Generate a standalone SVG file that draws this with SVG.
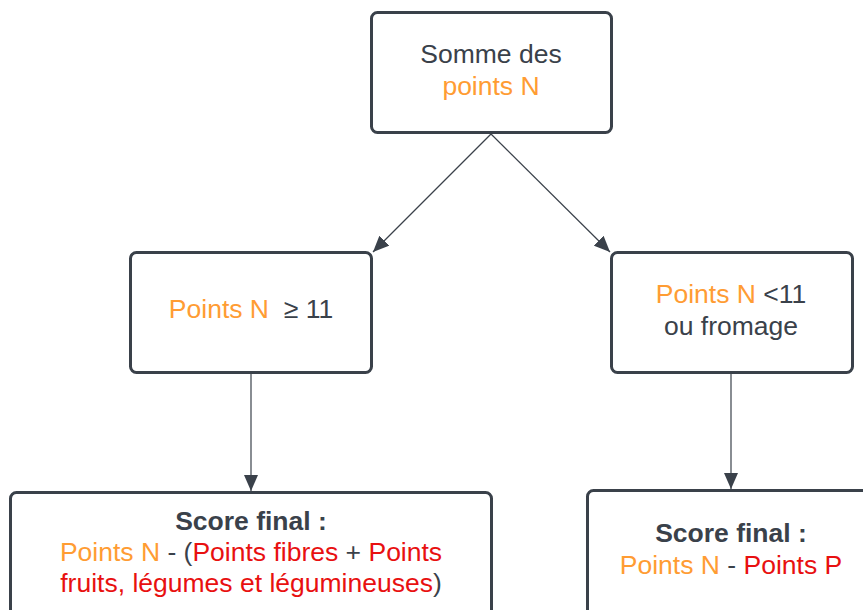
<svg xmlns="http://www.w3.org/2000/svg" width="863" height="610" viewBox="0 0 863 610">
<defs>
<style>
.box{fill:#ffffff;stroke:#3a414a;stroke-width:3}
.t{font-family:"Liberation Sans",Arial,sans-serif;font-size:26.5px;fill:#3a414a;text-anchor:middle}
.b{font-weight:bold}
.o{fill:#ff9c33}
.r{fill:#e81010}
.c{stroke:#3a414a;stroke-width:1.2;fill:none}
</style>
<marker id="ah" viewBox="0 0 16 14" refX="16" refY="7" markerWidth="16" markerHeight="14" markerUnits="userSpaceOnUse" orient="auto"><path d="M0,0 L16,7 L0,14 Z" fill="#3a414a"/></marker>
</defs>
<rect width="863" height="610" fill="#ffffff"/>
<g id="connectors">
<path class="c" d="M491,134 L373,252" marker-end="url(#ah)"/>
<path class="c" d="M491,134 L610,252" marker-end="url(#ah)"/>
<path class="c" d="M251,374 L251,491" marker-end="url(#ah)"/>
<path class="c" d="M731,374 L731,489" marker-end="url(#ah)"/>
</g>
<g id="n1">
<rect class="box" x="371.5" y="12.5" width="240" height="120" rx="6"/>
<text class="t" x="491" y="63">Somme des</text>
<text class="t o" x="491" y="95">points N</text>
</g>
<g id="n2">
<rect class="box" x="130.5" y="252.5" width="241" height="120" rx="6"/>
<text class="t" x="251" y="318"><tspan class="o">Points N</tspan>&#160; ≥ 11</text>
</g>
<g id="n3">
<rect class="box" x="611.5" y="252.5" width="241" height="120" rx="6"/>
<text class="t" x="731" y="303"><tspan class="o">Points N</tspan> &lt;11</text>
<text class="t" x="731" y="335">ou fromage</text>
</g>
<g id="n4">
<rect class="box" x="10.5" y="492.5" width="481" height="130" rx="6"/>
<text class="t b" x="251" y="530">Score final :</text>
<text class="t" x="251" y="561"><tspan class="o">Points N</tspan> - (<tspan class="r">Points fibres</tspan> + <tspan class="r">Points</tspan></text>
<text class="t" x="251" y="592"><tspan class="r">fruits, légumes et légumineuses</tspan>)</text>
</g>
<g id="n5">
<rect class="box" x="587.5" y="490.5" width="300" height="130" rx="6"/>
<text class="t b" x="731" y="542">Score final :</text>
<text class="t" x="731" y="574"><tspan class="o">Points N</tspan> - <tspan class="r">Points P</tspan></text>
</g>
</svg>
